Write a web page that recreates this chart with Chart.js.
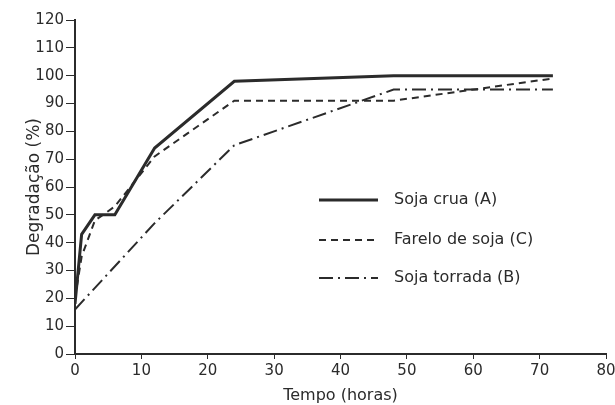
<!DOCTYPE html>
<html>
<head>
<meta charset="utf-8">
<script src="https://cdn.jsdelivr.net/npm/chart.js@4"></script>
<style>
  body { margin: 0; background: #fff; }
  canvas { display: block; }
</style>
</head>
<body>
<canvas id="chart" width="615" height="405"></canvas>
<script>
// time points (h) and degradation (%)
const tempoA = [0, 1, 3, 6, 12, 24, 48, 72];
const sojaCrua = [18, 43, 50, 50, 74, 98, 100, 100];
const tempoC = [0, 1, 3, 6, 12, 24, 48, 72];
const fareloSoja = [20, 35, 48, 53, 71, 91, 91, 99];
const tempoB = [0, 12, 24, 48, 72];
const sojaTorrada = [16, 47, 75, 95, 95];

const legendLabels = ["Soja crua (A)", "Farelo de soja (C)", "Soja torrada (B)"];
const ink = "#2b2b2b";
const font = "'DejaVu Sans', sans-serif";

function pts(xs, ys) {
    return xs.map((x, i) => ({ x: x, y: ys[i] }));
}

// legend drawn inside the plot, like the original figure
const innerLegend = {
    id: "innerLegend",
    afterDatasetsDraw(chart) {
        const ctx = chart.ctx;
        const rows = [200, 240, 278];
        ctx.save();
        chart.data.datasets.forEach((ds, i) => {
            const y = rows[i];
            ctx.strokeStyle = ds.borderColor;
            ctx.lineWidth = ds.borderWidth;
            ctx.setLineDash(ds.borderDash || []);
            ctx.beginPath();
            ctx.moveTo(319, y);
            ctx.lineTo(378, y);
            ctx.stroke();
            ctx.setLineDash([]);
            ctx.fillStyle = ink;
            ctx.font = "16px " + font;
            ctx.textBaseline = "middle";
            ctx.fillText(legendLabels[i], 394, y);
        });
        ctx.restore();
    }
};

new Chart(document.getElementById("chart"), {
    type: "line",
    data: {
        datasets: [
            { label: legendLabels[0], data: pts(tempoA, sojaCrua), borderColor: ink, borderWidth: 3, pointRadius: 0, tension: 0 },
            { label: legendLabels[1], data: pts(tempoC, fareloSoja), borderColor: ink, borderWidth: 2, borderDash: [7, 5], pointRadius: 0, tension: 0 },
            { label: legendLabels[2], data: pts(tempoB, sojaTorrada), borderColor: ink, borderWidth: 2, borderDash: [14, 5, 2, 5], pointRadius: 0, tension: 0 }
        ]
    },
    options: {
        responsive: false,
        animation: false,
        layout: { padding: { top: 20, right: 9, left: 0, bottom: 0 } },
        plugins: { legend: { display: false }, tooltip: { enabled: false } },
        scales: {
            x: {
                type: "linear",
                min: 0, max: 80,
                afterFit(scale) { scale.height = 51; scale.paddingRight = 0; },
                ticks: { stepSize: 10, color: ink, font: { family: font, size: 15 }, padding: 3 },
                grid: { drawOnChartArea: false, tickLength: 5, color: ink },
                border: { color: ink, width: 2 },
                title: { display: true, text: "Tempo (horas)", color: ink, font: { family: font, size: 16 }, padding: 0 }
            },
            y: {
                min: 0, max: 120,
                afterFit(scale) { scale.width = 75; },
                ticks: { stepSize: 10, color: ink, font: { family: font, size: 15 }, padding: 2 },
                grid: { drawOnChartArea: false, tickLength: 9, color: ink },
                border: { color: ink, width: 2 },
                title: { display: true, text: "Degradação (%)", color: ink, font: { family: font, size: 17 }, padding: { top: 24, bottom: 0 } }
            }
        }
    },
    plugins: [innerLegend]
});
</script>
</body>
</html>
